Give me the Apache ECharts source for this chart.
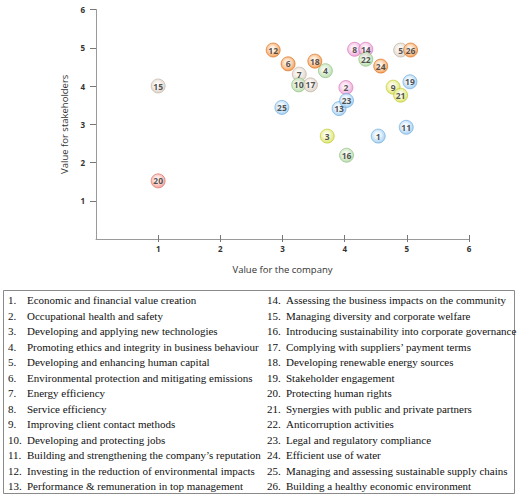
<!DOCTYPE html>
<html>
<head>
<meta charset="utf-8">
<script src="https://cdn.jsdelivr.net/npm/echarts@6/dist/echarts.min.js"></script>
<style>
  html, body { margin: 0; padding: 0; background: #fff; }
  #chart { width: 520px; height: 499px; }
</style>
</head>
<body>
<div id="chart"></div>
<script>
// issue number, value for the company (x), value for stakeholders (y), colour group
var ids = [1, 2, 3, 4, 5, 6, 7, 8, 9, 10, 11, 12, 13, 14, 15, 16, 17, 18, 19, 20, 21, 22, 23, 24, 25, 26];
var companyValue = [4.54, 4.02, 3.72, 3.69, 4.90, 3.09, 3.27, 4.16, 4.78, 3.26, 4.99, 2.85, 3.91, 4.34, 1.00, 4.03, 3.45, 3.52, 5.05, 1.00, 4.90, 4.34, 4.03, 4.58, 2.99, 5.06];
var stakeValue = [2.69, 3.96, 2.69, 4.40, 4.94, 4.58, 4.31, 4.96, 3.97, 4.03, 2.92, 4.94, 3.41, 4.96, 4.00, 2.19, 4.03, 4.65, 4.11, 1.52, 3.76, 4.70, 3.62, 4.52, 3.44, 4.94];
var groups = ['blue', 'pink', 'lime', 'green', 'beige', 'orange', 'beige', 'pink', 'lime', 'green', 'blue', 'orange', 'blue', 'pink', 'beige', 'green', 'beige', 'orange', 'blue', 'red', 'lime', 'green', 'blue', 'orange', 'blue', 'orange'];
var axisTicks = [1, 2, 3, 4, 5, 6];

var issues = [
  'Economic and financial value creation',
  'Occupational health and safety',
  'Developing and applying new technologies',
  'Promoting ethics and integrity in business behaviour',
  'Developing and enhancing human capital',
  'Environmental protection and mitigating emissions',
  'Energy efficiency',
  'Service efficiency',
  'Improving client contact methods',
  'Developing and protecting jobs',
  'Building and strengthening the company\u2019s reputation',
  'Investing in the reduction of environmental impacts',
  'Performance & remuneration in top management',
  'Assessing the business impacts on the community',
  'Managing diversity and corporate welfare',
  'Introducing sustainability into corporate governance',
  'Complying with suppliers\u2019 payment terms',
  'Developing renewable energy sources',
  'Stakeholder engagement',
  'Protecting human rights',
  'Synergies with public and private partners',
  'Anticorruption activities',
  'Legal and regulatory compliance',
  'Efficient use of water',
  'Managing and assessing sustainable supply chains',
  'Building a healthy economic environment'
];

// [centre, main, border]
var palette = {
  blue:   ['#e6f3fd', '#8ec3ec', '#6aa9dc'],
  pink:   ['#fbe3f3', '#e88fcb', '#d76fb6'],
  lime:   ['#f7f9cf', '#d4de45', '#bcc62b'],
  green:  ['#e6f3e0', '#a9d49b', '#8bbd7b'],
  beige:  ['#f6f1ec', '#d6c9bb', '#bcae9f'],
  orange: ['#fde0c4', '#f0852c', '#d96d18'],
  red:    ['#fde2de', '#ef8a7f', '#d86a60']
};

function ball(g) {
  var c = palette[g];
  return {
    color: {
      type: 'radial', x: 0.45, y: 0.42, r: 0.6,
      colorStops: [
        { offset: 0, color: '#ffffff' },
        { offset: 0.35, color: c[0] },
        { offset: 1, color: c[1] }
      ]
    },
    borderColor: c[2],
    borderWidth: 0.8
  };
}

var points = ids.map(function (id, i) {
  return {
    value: [companyValue[i], stakeValue[i]],
    name: String(id),
    itemStyle: ball(groups[i])
  };
});

var chart = echarts.init(document.getElementById('chart'), null, { renderer: 'svg' });

var tickFont = { fontFamily: 'Open Sans', fontSize: 8, fontWeight: 'bold', color: '#333' };

var graphics = [{
  type: 'rect',
  shape: { x: 3.5, y: 290.5, width: 511, height: 203 },
  style: { fill: 'none', stroke: '#8a8a8a', lineWidth: 1 }
}];
issues.forEach(function (txt, i) {
  var col = i < 13 ? 0 : 1;
  var row = i % 13;
  var y = 300 + row * 15.5;
  var x0 = col === 0 ? 8 : 267;
  graphics.push({
    type: 'text', x: x0, y: y,
    style: { text: (i + 1) + '.', fontFamily: 'Liberation Serif', fontSize: 11, fill: '#111', verticalAlign: 'middle' }
  });
  graphics.push({
    type: 'text', x: x0 + 19, y: y,
    style: { text: txt, fontFamily: 'Liberation Serif', fontSize: 11, fill: '#111', verticalAlign: 'middle' }
  });
});

chart.setOption({
  animation: false,
  grid: { left: 96, right: 51, top: 9.5, bottom: 260 },
  xAxis: [{
    type: 'value', min: 0, max: 6, interval: 1,
    name: 'Value for the company', nameLocation: 'middle', nameGap: 25,
    nameTextStyle: { fontFamily: 'Open Sans', fontSize: 9.5, color: '#333' },
    axisLine: { show: true, lineStyle: { color: '#9a9a9a', width: 1 } },
    axisTick: { show: true, length: 3, customValues: axisTicks, lineStyle: { color: '#777' } },
    axisLabel: Object.assign({ margin: 5, customValues: axisTicks }, tickFont),
    splitLine: { show: false }
  }, {
    type: 'value', min: 0, max: 6, interval: 1, position: 'bottom',
    axisLine: { show: false },
    axisTick: { show: true, inside: true, length: 4, customValues: axisTicks, lineStyle: { color: '#777' } },
    axisLabel: { show: false },
    splitLine: { show: false }
  }],
  yAxis: {
    type: 'value', min: 0, max: 6, interval: 1,
    name: 'Value for stakeholders', nameLocation: 'middle', nameGap: 27,
    nameTextStyle: { fontFamily: 'Open Sans', fontSize: 9.5, color: '#333' },
    axisLine: { show: true, lineStyle: { color: '#9a9a9a', width: 1 } },
    axisTick: { show: true, length: 6, customValues: axisTicks, lineStyle: { color: '#777' } },
    axisLabel: Object.assign({ margin: 11, customValues: axisTicks, padding: [0, 0, 12, 0] }, tickFont),
    splitLine: { show: false }
  },
  series: [{
    type: 'scatter',
    symbolSize: 14,
    data: points,
    label: {
      show: true, position: 'inside',
      formatter: '{b}',
      fontFamily: 'Open Sans', fontSize: 8.5, fontWeight: 'bold', color: '#2a2a2a'
    }
  }],
  graphic: graphics
});
</script>
</body>
</html>
